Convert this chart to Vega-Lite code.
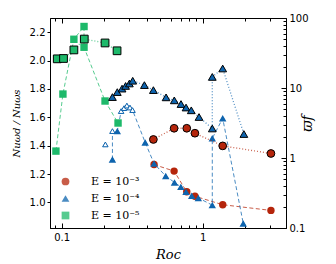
{
  "$schema": "https://vega.github.io/schema/vega-lite/v6.json",
  "width": 236,
  "height": 210,
  "autosize": {"type": "none"},
  "padding": {"left": 50, "top": 18, "right": 50, "bottom": 36},
  "background": "white",
  "config": {
    "view": {"stroke": "black", "strokeWidth": 1},
    "axis": {
      "labelFont": "DejaVu Sans",
      "labelFontSize": 10,
      "labelColor": "black",
      "domainColor": "black",
      "tickColor": "black",
      "grid": false,
      "titleFont": "DejaVu Serif",
      "titleFontStyle": "italic",
      "titleFontWeight": "normal",
      "titleColor": "black"
    },
    "legend": {
      "orient": "none", "legendX": 10, "legendY": 158, "title": null,
      "labelFont": "DejaVu Serif", "labelFontSize": 11, "labelColor": "black",
      "symbolSize": 60, "rowPadding": 5, "labelOffset": 20, "symbolStrokeWidth": 0
    }
  },
  "datasets": {
    "nu": [
      {"E": "E = 10⁻³", "i": 1, "run": "a", "kind": "closed", "Ro": 0.452, "v": 1.267},
      {"E": "E = 10⁻³", "i": 2, "run": "a", "kind": "closed", "Ro": 0.627, "v": 1.221},
      {"E": "E = 10⁻³", "i": 3, "run": "a", "kind": "closed", "Ro": 0.771, "v": 1.075},
      {"E": "E = 10⁻³", "i": 4, "run": "a", "kind": "closed", "Ro": 0.881, "v": 1.044},
      {"E": "E = 10⁻³", "i": 5, "run": "a", "kind": "closed", "Ro": 1.387, "v": 0.984},
      {"E": "E = 10⁻³", "i": 6, "run": "a", "kind": "closed", "Ro": 3.05, "v": 0.944},
      {"E": "E = 10⁻⁴", "i": 0, "run": "c", "kind": "open", "Ro": 0.204, "v": 1.409},
      {"E": "E = 10⁻⁴", "i": 1, "run": "b", "kind": "closed", "Ro": 0.229, "v": 1.303},
      {"E": "E = 10⁻⁴", "i": 2, "run": "b", "kind": "open", "Ro": 0.229, "v": 1.503},
      {"E": "E = 10⁻⁴", "i": 3, "run": "b", "kind": "closed", "Ro": 0.248, "v": 1.503},
      {"E": "E = 10⁻⁴", "i": 4, "run": "b", "kind": "open", "Ro": 0.264, "v": 1.644},
      {"E": "E = 10⁻⁴", "i": 5, "run": "b", "kind": "open", "Ro": 0.277, "v": 1.665},
      {"E": "E = 10⁻⁴", "i": 6, "run": "b", "kind": "open", "Ro": 0.290, "v": 1.683},
      {"E": "E = 10⁻⁴", "i": 7, "run": "b", "kind": "open", "Ro": 0.305, "v": 1.669},
      {"E": "E = 10⁻⁴", "i": 8, "run": "b", "kind": "open", "Ro": 0.318, "v": 1.651},
      {"E": "E = 10⁻⁴", "i": 9, "run": "b", "kind": "closed", "Ro": 0.391, "v": 1.423},
      {"E": "E = 10⁻⁴", "i": 10, "run": "b", "kind": "closed", "Ro": 0.452, "v": 1.274},
      {"E": "E = 10⁻⁴", "i": 11, "run": "b", "kind": "closed", "Ro": 0.547, "v": 1.186},
      {"E": "E = 10⁻⁴", "i": 12, "run": "b", "kind": "closed", "Ro": 0.631, "v": 1.141},
      {"E": "E = 10⁻⁴", "i": 13, "run": "b", "kind": "closed", "Ro": 0.70, "v": 1.11},
      {"E": "E = 10⁻⁴", "i": 14, "run": "b", "kind": "closed", "Ro": 0.762, "v": 1.075},
      {"E": "E = 10⁻⁴", "i": 15, "run": "b", "kind": "closed", "Ro": 0.836, "v": 1.047},
      {"E": "E = 10⁻⁴", "i": 16, "run": "b", "kind": "closed", "Ro": 0.931, "v": 1.032},
      {"E": "E = 10⁻⁴", "i": 17, "run": "b", "kind": "closed", "Ro": 1.17, "v": 0.981},
      {"E": "E = 10⁻⁴", "i": 18, "run": "b", "kind": "closed", "Ro": 1.17, "v": 1.452},
      {"E": "E = 10⁻⁴", "i": 19, "run": "b", "kind": "closed", "Ro": 1.387, "v": 1.593},
      {"E": "E = 10⁻⁴", "i": 20, "run": "b", "kind": "closed", "Ro": 1.94, "v": 0.852},
      {"E": "E = 10⁻⁵", "i": 1, "run": "d", "kind": "closed", "Ro": 0.091, "v": 1.362},
      {"E": "E = 10⁻⁵", "i": 2, "run": "d", "kind": "closed", "Ro": 0.102, "v": 1.764},
      {"E": "E = 10⁻⁵", "i": 3, "run": "d", "kind": "closed", "Ro": 0.122, "v": 2.15},
      {"E": "E = 10⁻⁵", "i": 4, "run": "d", "kind": "closed", "Ro": 0.144, "v": 2.24},
      {"E": "E = 10⁻⁵", "i": 5, "run": "d", "kind": "closed", "Ro": 0.144, "v": 2.094},
      {"E": "E = 10⁻⁵", "i": 6, "run": "d", "kind": "closed", "Ro": 0.203, "v": 1.715},
      {"E": "E = 10⁻⁵", "i": 7, "run": "d", "kind": "closed", "Ro": 0.251, "v": 1.56}
    ],
    "wf": [
      {"E": "E = 10⁻³", "i": 1, "Ro": 0.447, "w": 1.84},
      {"E": "E = 10⁻³", "i": 2, "Ro": 0.627, "w": 2.66},
      {"E": "E = 10⁻³", "i": 3, "Ro": 0.771, "w": 2.66},
      {"E": "E = 10⁻³", "i": 4, "Ro": 0.881, "w": 2.26},
      {"E": "E = 10⁻³", "i": 5, "Ro": 1.387, "w": 1.49},
      {"E": "E = 10⁻³", "i": 6, "Ro": 3.05, "w": 1.16},
      {"E": "E = 10⁻⁴", "i": 1, "Ro": 0.229, "w": 7.42},
      {"E": "E = 10⁻⁴", "i": 2, "Ro": 0.248, "w": 8.74},
      {"E": "E = 10⁻⁴", "i": 3, "Ro": 0.268, "w": 9.8},
      {"E": "E = 10⁻⁴", "i": 4, "Ro": 0.284, "w": 10.7},
      {"E": "E = 10⁻⁴", "i": 5, "Ro": 0.302, "w": 11.6},
      {"E": "E = 10⁻⁴", "i": 6, "Ro": 0.319, "w": 12.7},
      {"E": "E = 10⁻⁴", "i": 7, "Ro": 0.386, "w": 11.0},
      {"E": "E = 10⁻⁴", "i": 8, "Ro": 0.447, "w": 9.33},
      {"E": "E = 10⁻⁴", "i": 9, "Ro": 0.550, "w": 7.35},
      {"E": "E = 10⁻⁴", "i": 10, "Ro": 0.629, "w": 6.66},
      {"E": "E = 10⁻⁴", "i": 11, "Ro": 0.702, "w": 5.9},
      {"E": "E = 10⁻⁴", "i": 12, "Ro": 0.762, "w": 5.26},
      {"E": "E = 10⁻⁴", "i": 13, "Ro": 0.83, "w": 4.8},
      {"E": "E = 10⁻⁴", "i": 14, "Ro": 0.942, "w": 3.85},
      {"E": "E = 10⁻⁴", "i": 15, "Ro": 1.17, "w": 2.64},
      {"E": "E = 10⁻⁴", "i": 16, "Ro": 1.17, "w": 14.4},
      {"E": "E = 10⁻⁴", "i": 17, "Ro": 1.387, "w": 19.0},
      {"E": "E = 10⁻⁴", "i": 18, "Ro": 1.96, "w": 2.2},
      {"E": "E = 10⁻⁵", "i": 1, "Ro": 0.093, "w": 26.1},
      {"E": "E = 10⁻⁵", "i": 2, "Ro": 0.103, "w": 26.4},
      {"E": "E = 10⁻⁵", "i": 3, "Ro": 0.122, "w": 35},
      {"E": "E = 10⁻⁵", "i": 4, "Ro": 0.1446, "w": 50},
      {"E": "E = 10⁻⁵", "i": 5, "Ro": 0.203, "w": 44},
      {"E": "E = 10⁻⁵", "i": 6, "Ro": 0.247, "w": 34}
    ]
  },
  "layer": [
    {
      "data": {"name": "nu"},
      "encoding": {
        "x": {
          "field": "Ro", "type": "quantitative",
          "scale": {"type": "log", "domain": [0.0826, 3.9], "nice": false},
          "axis": {
            "orient": "bottom",
            "title": "Roc",
            "titleFontSize": 13,
            "titlePadding": 4,
            "values": [0.09, 0.1, 0.2, 0.3, 0.4, 0.5, 0.6, 0.7, 0.8, 0.9, 1, 2, 3],
            "labelExpr": "datum.value == 0.1 || datum.value == 1 ? format(datum.value, '') : ''",
            "tickSize": {"condition": {"test": "datum.value == 0.1 || datum.value == 1", "value": -5}, "value": -3},
            "labelPadding": 9,
            "labelFlush": false,
            "labelOverlap": false
          }
        },
        "y": {
          "field": "v", "type": "quantitative",
          "scale": {"domain": [0.82, 2.3], "nice": false, "zero": false},
          "axis": {
            "orient": "left",
            "title": "Nuωd / Nuωs",
            "titleFontSize": 10,
            "titlePadding": 8,
            "values": [1.0, 1.2, 1.4, 1.6, 1.8, 2.0, 2.2],
            "format": ".1f",
            "tickSize": 3,
            "labelPadding": 2
          }
        },
        "color": {
          "field": "E", "type": "nominal",
          "scale": {"domain": ["E = 10⁻³", "E = 10⁻⁴", "E = 10⁻⁵"], "range": ["#b5250b", "#0e64ae", "#1db96a"]}
        },
        "shape": {
          "field": "E", "type": "nominal",
          "scale": {"domain": ["E = 10⁻³", "E = 10⁻⁴", "E = 10⁻⁵"], "range": ["circle", "triangle-up", "square"]}
        }
      },
      "layer": [
        {
          "mark": {"type": "line", "strokeDash": [4, 2.5], "strokeWidth": 1, "opacity": 0.75},
          "encoding": {
            "detail": {"field": "run"},
            "order": {"field": "i", "type": "quantitative"}
          }
        },
        {
          "transform": [{"filter": "datum.kind == 'closed'"}],
          "mark": {"type": "point", "filled": true, "size": 55, "opacity": 1}
        },
        {
          "transform": [{"filter": "datum.kind == 'open'"}],
          "mark": {"type": "point", "filled": false, "fill": "white", "fillOpacity": 1, "size": 30, "strokeWidth": 1, "opacity": 1}
        }
      ]
    },
    {
      "data": {"name": "wf"},
      "encoding": {
        "x": {
          "field": "Ro", "type": "quantitative",
          "scale": {"type": "log", "domain": [0.0826, 3.9], "nice": false},
          "axis": {
            "orient": "top",
            "title": null,
            "labels": false,
            "domain": false,
            "values": [0.09, 0.1, 0.2, 0.3, 0.4, 0.5, 0.6, 0.7, 0.8, 0.9, 1, 2, 3],
            "tickSize": {"condition": {"test": "datum.value == 0.1 || datum.value == 1", "value": -5}, "value": -3}
          }
        },
        "y": {
          "field": "w", "type": "quantitative",
          "scale": {"type": "log", "domain": [0.1, 100], "nice": false},
          "axis": {
            "orient": "right",
            "title": "ϖf",
            "titleFontSize": 14,
            "titleAngle": 270,
            "titlePadding": 6,
            "values": [0.1, 0.2, 0.3, 0.4, 0.5, 0.6, 0.7, 0.8, 0.9, 1, 2, 3, 4, 5, 6, 7, 8, 9, 10, 20, 30, 40, 50, 60, 70, 80, 90, 100],
            "labelExpr": "datum.value == 0.1 || datum.value == 1 || datum.value == 10 || datum.value == 100 ? format(datum.value, '') : ''",
            "tickSize": {"condition": {"test": "datum.value == 0.1 || datum.value == 1 || datum.value == 10 || datum.value == 100", "value": -5}, "value": -3},
            "labelPadding": 8,
            "labelFlush": false,
            "labelOverlap": false
          }
        },
        "color": {"field": "E", "type": "nominal", "legend": null},
        "shape": {"field": "E", "type": "nominal", "legend": null}
      },
      "layer": [
        {
          "mark": {"type": "line", "strokeDash": [1, 2], "strokeWidth": 1.3, "opacity": 0.7},
          "encoding": {"order": {"field": "i", "type": "quantitative"}}
        },
        {
          "mark": {"type": "point", "filled": true, "size": 60, "stroke": "black", "strokeWidth": 1, "opacity": 1}
        }
      ]
    }
  ],
  "resolve": {"scale": {"y": "independent"}, "axis": {"x": "independent"}, "legend": {"color": "independent", "shape": "independent"}}
}
